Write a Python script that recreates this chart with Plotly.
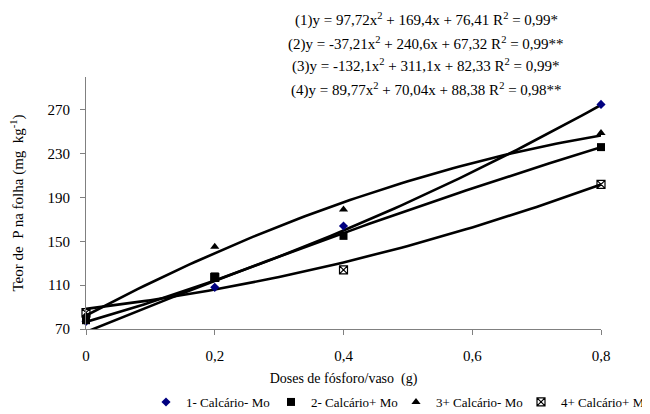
import numpy as np
import plotly.graph_objects as go

# Data
doses = [0, 0.2, 0.4, 0.8]
tick_vals_x = [0, 0.2, 0.4, 0.6, 0.8]
tick_text_x = ["0", "0,2", "0,4", "0,6", "0,8"]
tick_vals_y = [70, 110, 150, 190, 230, 270]

s1_name = "1- Calcário- Mo"
s2_name = "2- Calcário+ Mo"
s3_name = "3+ Calcário- Mo"
s4_name = "4+ Calcário+ Mo"

s1_vals = [77, 108, 164, 275]
s2_vals = [78, 118, 155, 236]
s3_vals = [82, 145, 179, 249]
s4_vals = [85, 117, 124, 202]

# Regression coefficients shown on the chart (a, b, c for a*x^2 + b*x + c)
s1_coef = [97.72, 169.4, 76.41]
s2_coef = [-37.21, 240.6, 67.32]
s3_coef = [-132.1, 311.1, 82.33]
s4_coef = [89.77, 70.04, 88.38]

equations = [
    "(1)y = 97,72x<sup>2</sup> + 169,4x + 76,41 R<sup>2</sup> = 0,99*",
    "(2)y = -37,21x<sup>2</sup> + 240,6x + 67,32 R<sup>2</sup> = 0,99**",
    "(3)y = -132,1x<sup>2</sup> + 311,1x + 82,33 R<sup>2</sup> = 0,99*",
    "(4)y = 89,77x<sup>2</sup> + 70,04x + 88,38 R<sup>2</sup> = 0,98**",
]

FONT = "Times New Roman, Liberation Serif, DejaVu Serif, serif"

# the page body adds an 8px offset, so the figure is 8px smaller than the window
W, H = 642, 406
L, R, T, B = 78, 49, 69, 85

fig = go.Figure()
xs = np.linspace(0, 0.8, 81)
series = [
    (s1_name, s1_vals, s1_coef, "diamond", "#000080", 7),
    (s2_name, s2_vals, s2_coef, "square", "black", 8),
    (s3_name, s3_vals, s3_coef, "triangle-up", "black", 8),
    (s4_name, s4_vals, s4_coef, "square-x-open", "black", 8),
]
for name, vals, coef, sym, col, size in series:
    fig.add_trace(go.Scatter(
        x=xs, y=np.polyval(coef, xs), mode="lines",
        line=dict(color="black", width=2.6), showlegend=False, hoverinfo="skip"))
for name, vals, coef, sym, col, size in series:
    fig.add_trace(go.Scatter(
        x=doses, y=vals, mode="markers", name=name, cliponaxis=False,
        marker=dict(symbol=sym, color=col, size=size,
                    line=dict(color=col, width=1.2 if sym.endswith("open") else 0))))

for i, eq in enumerate(equations):
    fig.add_annotation(text=eq, xref="paper", yref="paper",
                       x=(426 - 86) / 515, y=(329 - (20 + i * 23)) / 252,
                       xanchor="center", yanchor="middle", showarrow=False,
                       font=dict(family=FONT, size=15, color="black"))

fig.update_layout(
    width=W, height=H,
    margin=dict(l=L, r=R, t=T, b=B),
    paper_bgcolor="white", plot_bgcolor="white",
    font=dict(family=FONT, size=13, color="black"),
    showlegend=True,
    legend=dict(orientation="h", xref="container", yref="container",
                x=638 / W, xanchor="right",
                y=(H - 379) / H, yanchor="top",
                font=dict(family=FONT, size=13), itemwidth=30,
                entrywidth=80, entrywidthmode="pixels",
                tracegroupgap=0, bgcolor="rgba(0,0,0,0)"),
    xaxis=dict(range=[0, 0.8], tickvals=tick_vals_x, ticktext=tick_text_x,
               automargin=False,
               showgrid=False, zeroline=False, showline=True, linecolor="#808080",
               linewidth=1, ticks="outside", ticklen=5, tickcolor="#808080",
               tickfont=dict(family=FONT, size=15), ticklabelstandoff=8,
               title=dict(text="Doses de fósforo/vaso  (g)", font=dict(family=FONT, size=14),
                          standoff=11)),
    yaxis=dict(range=[70, 300], tickvals=tick_vals_y,
               automargin=False,
               showgrid=False, zeroline=False, showline=True, linecolor="#808080",
               linewidth=1, ticks="outside", ticklen=5, tickcolor="#808080",
               tickfont=dict(family=FONT, size=15), ticklabelstandoff=7,
               title=dict(text="Teor de  P na folha (mg  kg<sup>-1</sup>)",
                          font=dict(family=FONT, size=15), standoff=20)),
)

fig.write_html("out.html")
